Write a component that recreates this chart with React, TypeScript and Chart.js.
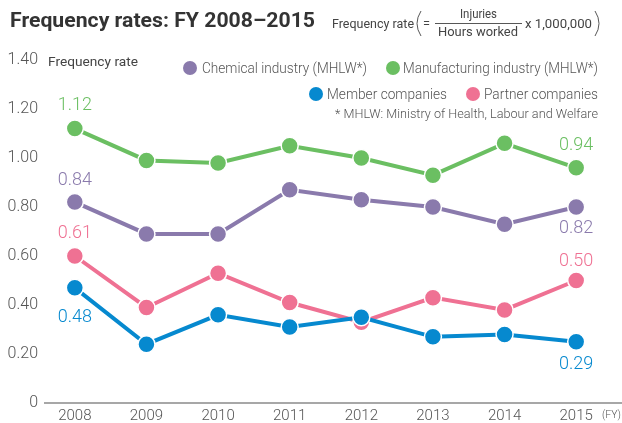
import React, { useEffect, useRef } from 'react';
import { Chart, registerables } from 'chart.js';

Chart.register(...registerables);

const years = ['2008', '2009', '2010', '2011', '2012', '2013', '2014', '2015'];
const chemical = [0.82, 0.69, 0.69, 0.87, 0.83, 0.80, 0.73, 0.80];
const manufacturing = [1.12, 0.99, 0.98, 1.05, 1.00, 0.93, 1.06, 0.96];
const member = [0.47, 0.24, 0.36, 0.31, 0.35, 0.27, 0.28, 0.25];
const partner = [0.60, 0.39, 0.53, 0.41, 0.33, 0.43, 0.38, 0.50];
const firstLabels = ['0.84', '1.12', '0.48', '0.61'];
const lastLabels = ['0.82', '0.94', '0.29', '0.50'];
const yTicks = [0, 0.2, 0.4, 0.6, 0.8, 1.0, 1.2, 1.4];

const PURPLE = '#8a7aac';
const GREEN = '#6bbf62';
const BLUE = '#0689cf';
const PINK = '#ef7193';
const TEXT = '#555555';
const FONT = 'Roboto, "Liberation Sans", sans-serif';

// offsets (px) of the value labels relative to the point: [first, last]
const labelOffsets = [
  [-22, 21],
  [-23, -22],
  [30, 23],
  [-23, -19],
];

function fitText(ctx: CanvasRenderingContext2D, text: string, x: number, y: number, w: number) {
  const m = ctx.measureText(text).width;
  const s = w / m;
  ctx.save();
  ctx.translate(x, y);
  ctx.scale(s, 1);
  ctx.textAlign = 'left';
  ctx.fillText(text, 0, 0);
  ctx.restore();
}

const decorPlugin = {
  id: 'decor',
  beforeDatasetsDraw(chart: any) {
    const ctx = chart.ctx as CanvasRenderingContext2D;
    const y0 = chart.scales.y.getPixelForValue(0);
    ctx.save();
    ctx.strokeStyle = '#8a8a8a';
    ctx.lineWidth = 1.5;
    ctx.beginPath();
    ctx.moveTo(44, y0);
    ctx.lineTo(622, y0);
    ctx.stroke();
    ctx.restore();
  },
  afterDraw(chart: any) {
    const ctx = chart.ctx as CanvasRenderingContext2D;
    ctx.save();
    ctx.textBaseline = 'alphabetic';

    // title
    ctx.fillStyle = '#333333';
    ctx.font = `bold 20px ${FONT}`;
    fitText(ctx, 'Frequency rates: FY 2008\u20132015', 10, 27, 305);

    // formula
    ctx.fillStyle = '#444444';
    ctx.font = `400 12px ${FONT}`;
    fitText(ctx, 'Frequency rate', 332, 28, 82);
    fitText(ctx, '=', 423, 28, 7);
    fitText(ctx, 'Injuries', 460, 18, 37);
    fitText(ctx, 'Hours worked', 438, 36, 80);
    fitText(ctx, 'x 1,000,000', 525, 28, 67);
    ctx.strokeStyle = '#444444';
    ctx.lineWidth = 0.9;
    ctx.beginPath();
    ctx.moveTo(435, 23.5);
    ctx.lineTo(522, 23.5);
    ctx.stroke();
    ctx.beginPath();
    ctx.moveTo(421, 11);
    ctx.quadraticCurveTo(413, 23.5, 421, 36);
    ctx.stroke();
    ctx.beginPath();
    ctx.moveTo(595, 11);
    ctx.quadraticCurveTo(603, 23.5, 595, 36);
    ctx.stroke();

    // y axis title
    ctx.fillStyle = '#444444';
    ctx.font = `400 13px ${FONT}`;
    fitText(ctx, 'Frequency rate', 48, 66, 90);

    // legend
    const legend = [
      { c: PURPLE, t: 'Chemical industry (MHLW*)', dx: 190, tx: 202, tw: 165, y: 68 },
      { c: GREEN, t: 'Manufacturing industry (MHLW*)', dx: 393, tx: 403, tw: 195, y: 68 },
      { c: BLUE, t: 'Member companies', dx: 316, tx: 327, tw: 120, y: 94 },
      { c: PINK, t: 'Partner companies', dx: 473, tx: 484, tw: 114, y: 94 },
    ];
    ctx.font = `300 14px ${FONT}`;
    legend.forEach((l) => {
      ctx.fillStyle = l.c;
      ctx.beginPath();
      ctx.arc(l.dx, l.y, 7, 0, Math.PI * 2);
      ctx.fill();
      ctx.fillStyle = TEXT;
      fitText(ctx, l.t, l.tx, l.y + 5, l.tw);
    });
    ctx.font = `300 12px ${FONT}`;
    fitText(ctx, '* MHLW: Ministry of Health, Labour and Welfare', 335, 118, 263);

    // (FY)
    ctx.font = `300 11px ${FONT}`;
    fitText(ctx, '(FY)', 602, 418, 19);

    // value labels
    ctx.font = `300 18px ${FONT}`;
    ctx.textAlign = 'center';
    ctx.textBaseline = 'middle';
    const metas = [0, 1, 2, 3].map((i) => chart.getDatasetMeta(i));
    const colors = [PURPLE, GREEN, BLUE, PINK];
    metas.forEach((meta: any, i: number) => {
      const pts = meta.data;
      const first = pts[0];
      const last = pts[pts.length - 1];
      ctx.fillStyle = colors[i];
      ctx.fillText(firstLabels[i], first.x, first.y + labelOffsets[i][0]);
      ctx.fillText(lastLabels[i], last.x, last.y + labelOffsets[i][1]);
    });
    ctx.restore();
  },
};

function ds(label: string, data: number[], color: string, order: number) {
  return {
    label,
    data,
    borderColor: color,
    backgroundColor: color,
    borderWidth: 4,
    pointRadius: 8.5,
    pointBackgroundColor: color,
    pointBorderColor: '#ffffff',
    pointBorderWidth: 1.5,
    tension: 0,
    order,
    clip: false as any,
  };
}

export default function App() {
  const ref = useRef<HTMLCanvasElement>(null);
  useEffect(() => {
    document.body.style.margin = '0';
    const canvas = ref.current!;
    const chart = new Chart(canvas, {
      type: 'line',
      data: {
        labels: years,
        datasets: [
          ds('Chemical industry (MHLW*)', chemical, PURPLE, 2),
          ds('Manufacturing industry (MHLW*)', manufacturing, GREEN, 3),
          ds('Member companies', member, BLUE, 0),
          ds('Partner companies', partner, PINK, 1),
        ],
      },
      options: {
        responsive: false,
        devicePixelRatio: 1,
        animation: false,
        layout: { padding: { top: 60, right: 10, left: 0, bottom: 0 } },
        plugins: {
          legend: { display: false },
          tooltip: { enabled: false },
          title: { display: false },
        },
        scales: {
          x: {
            offset: true,
            grid: { display: false, drawTicks: false },
            border: { display: false },
            ticks: {
              font: { family: FONT, size: 15, weight: 300 as any },
              color: TEXT,
              padding: 4,
              maxRotation: 0,
            },
            afterFit: (s: any) => {
              s.height = 20;
            },
          },
          y: {
            min: 0,
            max: 1.4,
            afterBuildTicks: (s: any) => {
              s.ticks = yTicks.map((v) => ({ value: v }));
            },
            ticks: {
              callback: (v: any) => (Number(v) === 0 ? '0' : Number(v).toFixed(2)),
              font: { family: FONT, size: 16, weight: 300 as any },
              color: TEXT,
              padding: 1,
            },
            grid: { display: false, drawTicks: false },
            border: { display: false },
            afterFit: (s: any) => {
              s.width = 39;
            },
          },
        },
      },
      plugins: [decorPlugin],
    });
    return () => chart.destroy();
  }, []);
  return <canvas ref={ref} width={622} height={423} style={{ display: 'block', width: 622, height: 423 }} />;
}
